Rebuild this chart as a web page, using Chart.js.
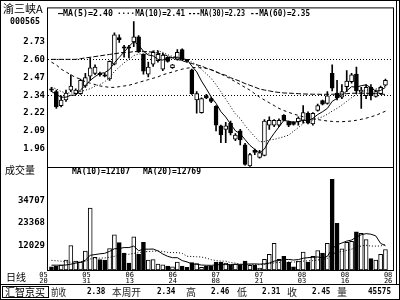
<!DOCTYPE html>
<html>
<head>
<meta charset="utf-8">
<script src="https://cdn.jsdelivr.net/npm/chart.js@4"></script>
<style>html,body{margin:0;background:#fff}canvas{display:block}</style>
</head>
<body>
<canvas id="c" width="400" height="300"></canvas>
<script>
const stockName = '渝三峡A';
const stockCode = '000565';
const dateLabels = ['05/20', '05/31', '06/13', '06/24', '07/08', '07/21', '08/03', '08/16', '08/26'];

const opens = [2.39, 2.37, 2.27, 2.31, 2.38, 2.355, 2.355, 2.41, 2.48, 2.50,
  2.50, 2.49, 2.46, 2.565, 2.755, 2.69, 2.69, 2.725, 2.76, 2.635,
  2.495, 2.565, 2.59, 2.53, 2.615, 2.54, 2.60, 2.67, 2.60, 2.525,
  2.31, 2.22, 2.34, 2.32, 2.265, 2.125, 2.10, 2.145, 2.03, 2.09,
  1.99, 1.84, 1.95, 1.90, 1.915, 2.13, 2.13, 2.13, 2.20, 2.155,
  2.15, 2.155, 2.165, 2.215, 2.14, 2.235, 2.305, 2.285, 2.50, 2.36,
  2.33, 2.405, 2.44, 2.495, 2.365, 2.34, 2.40, 2.335, 2.355, 2.415];
const highs = [2.40, 2.38, 2.34, 2.38, 2.49, 2.39, 2.46, 2.50, 2.61, 2.56,
  2.51, 2.50, 2.59, 2.79, 2.775, 2.70, 2.70, 2.87, 2.77, 2.64,
  2.58, 2.66, 2.66, 2.645, 2.62, 2.565, 2.67, 2.675, 2.60, 2.53,
  2.37, 2.325, 2.35, 2.33, 2.27, 2.13, 2.15, 2.16, 2.07, 2.10,
  2.00, 1.93, 1.96, 1.95, 2.17, 2.19, 2.17, 2.175, 2.205, 2.16,
  2.155, 2.19, 2.27, 2.225, 2.22, 2.28, 2.31, 2.37, 2.56, 2.45,
  2.42, 2.52, 2.50, 2.545, 2.40, 2.42, 2.42, 2.38, 2.41, 2.46];
const lows = [2.37, 2.25, 2.26, 2.30, 2.37, 2.35, 2.35, 2.40, 2.45, 2.49,
  2.48, 2.475, 2.45, 2.56, 2.72, 2.615, 2.61, 2.69, 2.65, 2.495,
  2.475, 2.55, 2.58, 2.52, 2.58, 2.535, 2.595, 2.59, 2.58, 2.35,
  2.215, 2.215, 2.32, 2.29, 2.09, 2.005, 2.005, 2.06, 2.02, 1.99,
  1.845, 1.835, 1.92, 1.895, 1.91, 2.10, 2.12, 2.12, 2.16, 2.12,
  2.13, 2.13, 2.145, 2.14, 2.13, 2.23, 2.275, 2.28, 2.375, 2.31,
  2.32, 2.37, 2.43, 2.355, 2.25, 2.32, 2.31, 2.33, 2.35, 2.41];
const closes = [2.38, 2.26, 2.31, 2.36, 2.41, 2.38, 2.45, 2.47, 2.54, 2.545,
  2.49, 2.48, 2.585, 2.775, 2.74, 2.68, 2.68, 2.76, 2.655, 2.515,
  2.545, 2.65, 2.635, 2.63, 2.585, 2.56, 2.65, 2.60, 2.59, 2.355,
  2.355, 2.32, 2.325, 2.30, 2.13, 2.06, 2.125, 2.075, 2.06, 2.025,
  1.85, 1.92, 1.935, 1.935, 2.16, 2.165, 2.165, 2.165, 2.165, 2.13,
  2.135, 2.18, 2.22, 2.145, 2.215, 2.27, 2.28, 2.34, 2.395, 2.325,
  2.37, 2.445, 2.49, 2.375, 2.38, 2.40, 2.34, 2.37, 2.40, 2.45];
const volumes = [1600, 2000, 2400, 4900, 12200, 4500, 4000, 9400, 30800, 6300,
  5200, 4900, 10700, 17500, 13600, 8400, 3500, 16500, 7800, 13800,
  4900, 5200, 2900, 2600, 2000, 1600, 4000, 2000, 1300, 3700,
  3200, 1300, 2000, 2000, 4000, 4000, 3400, 2300, 2900, 2600,
  4500, 2300, 2300, 1000, 5300, 7800, 13300, 5300, 6800, 4000,
  1600, 4500, 8900, 4000, 6800, 9700, 8400, 13300, 45100, 23200,
  10500, 13800, 14300, 19000, 18200, 15100, 5700, 4900, 7800, 10200];

const ma5 = [2.37, 2.35, 2.33, 2.33, 2.344, 2.344, 2.382, 2.414, 2.45, 2.477,
  2.499, 2.505, 2.528, 2.575, 2.614, 2.652, 2.692, 2.727, 2.703, 2.658,
  2.631, 2.625, 2.60, 2.595, 2.609, 2.612, 2.612, 2.605, 2.598, 2.552,
  2.511, 2.445, 2.39, 2.331, 2.286, 2.227, 2.188, 2.138, 2.09, 2.069,
  2.027, 1.986, 1.958, 1.933, 1.96, 2.023, 2.072, 2.118, 2.164, 2.158,
  2.152, 2.155, 2.166, 2.162, 2.179, 2.206, 2.226, 2.25, 2.30, 2.322,
  2.342, 2.375, 2.405, 2.401, 2.412, 2.418, 2.397, 2.373, 2.378, 2.40];
const ma10 = [2.40, 2.39, 2.37, 2.36, 2.36, 2.36, 2.37, 2.38, 2.39, 2.41,
  2.42, 2.44, 2.471, 2.513, 2.545, 2.575, 2.599, 2.627, 2.639, 2.636,
  2.641, 2.658, 2.663, 2.649, 2.633, 2.621, 2.618, 2.602, 2.596, 2.58,
  2.561, 2.528, 2.497, 2.464, 2.419, 2.369, 2.316, 2.264, 2.21, 2.177,
  2.127, 2.087, 2.048, 2.011, 2.014, 2.025, 2.029, 2.038, 2.048, 2.059,
  2.087, 2.113, 2.142, 2.163, 2.168, 2.179, 2.19, 2.208, 2.231, 2.25,
  2.274, 2.30, 2.327, 2.35, 2.367, 2.38, 2.386, 2.389, 2.39, 2.41];
const ma30 = [2.58, 2.56, 2.53, 2.51, 2.49, 2.47, 2.46, 2.44, 2.43, 2.42,
  2.41, 2.405, 2.40, 2.40, 2.405, 2.41, 2.415, 2.425, 2.435, 2.445,
  2.455, 2.465, 2.475, 2.49, 2.50, 2.51, 2.52, 2.53, 2.537, 2.542,
  2.541, 2.54, 2.535, 2.525, 2.51, 2.495, 2.48, 2.46, 2.44, 2.42,
  2.40, 2.38, 2.355, 2.33, 2.31, 2.29, 2.27, 2.25, 2.235, 2.222,
  2.21, 2.20, 2.19, 2.182, 2.175, 2.17, 2.165, 2.16, 2.157, 2.155,
  2.155, 2.157, 2.16, 2.165, 2.172, 2.18, 2.19, 2.20, 2.215, 2.23];
const ma60 = [2.60, 2.60, 2.60, 2.60, 2.60, 2.60, 2.605, 2.61, 2.615, 2.62,
  2.625, 2.63, 2.635, 2.64, 2.645, 2.65, 2.65, 2.655, 2.655, 2.655,
  2.655, 2.65, 2.645, 2.635, 2.625, 2.61, 2.60, 2.59, 2.58, 2.57,
  2.561, 2.552, 2.537, 2.526, 2.512, 2.496, 2.486, 2.469, 2.456, 2.443,
  2.427, 2.415, 2.402, 2.388, 2.381, 2.375, 2.368, 2.364, 2.36, 2.359,
  2.357, 2.355, 2.353, 2.352, 2.351, 2.351, 2.35, 2.351, 2.351, 2.352,
  2.352, 2.355, 2.358, 2.358, 2.358, 2.358, 2.356, 2.355, 2.352, 2.35];
const volMa10 = [2400, 2400, 2400, 2500, 2900, 3400, 3900, 4900, 7300, 7690,
  8050, 8290, 9270, 10580, 10720, 11160, 11160, 11890, 9590, 10390,
  10360, 10440, 9510, 7970, 6810, 6130, 6130, 4680, 4030, 3020,
  2850, 2460, 2370, 2310, 2510, 2750, 2690, 2720, 2880, 2770,
  2900, 3000, 3030, 2930, 3060, 3440, 4430, 4730, 5120, 5260,
  4970, 5190, 5850, 6150, 6300, 6490, 6000, 6800, 10630, 12550,
  13440, 14370, 14910, 16410, 17550, 18090, 17820, 16980, 13250, 12107];
const volMa20 = [4800, 4600, 4400, 4000, 3900, 3900, 4000, 4300, 5500, 5700,
  5900, 6000, 6300, 6800, 7300, 7700, 7800, 8300, 8600, 9040,
  9205, 9365, 9390, 9275, 8765, 8645, 8645, 8285, 6810, 6705,
  6605, 6450, 5940, 5140, 4660, 4440, 4410, 3700, 3455, 2895,
  2875, 2730, 2700, 2620, 2785, 3095, 3560, 3725, 4000, 4015,
  3935, 4095, 4440, 4540, 4680, 4965, 5215, 5765, 7875, 8905,
  9205, 9780, 10380, 11280, 11925, 12290, 11910, 11890, 11940, 12769];

const priceTicks = [1.96, 2.088, 2.216, 2.344, 2.472, 2.600, 2.728];
const priceTickLabels = ['1.96', '2.09', '2.22', '2.34', '2.47', '2.60', '2.73'];
const volTicks = [12029, 23368, 34707];
const refLevels = [2.60, 2.344];
const weekSummary = [['前收', '2.38'], ['本周开', '2.34'], ['高', '2.46'], ['低', '2.31'], ['收', '2.45'], ['量', '45575']];

const idx = closes.map((c, i) => i);
const fills = closes.map((c, i) => c >= opens[i] ? '#fff' : '#000');
const last = a => a[a.length - 1];
const MONO = '"DejaVu Sans Mono"';
const CJK = '"Noto Sans CJK SC"';

function maLine(arr, axis, dash) {
  return {
    type: 'line', yAxisID: axis, data: idx.map(i => ({x: i, y: arr[i]})),
    borderColor: '#000', borderWidth: 1, borderDash: dash, pointRadius: 0, tension: 0, order: 1
  };
}

const frame = {
  id: 'frame',
  beforeDatasetsDraw(chart) {
    const {ctx, chartArea: a, scales} = chart;
    ctx.save();
    ctx.strokeStyle = '#000';
    ctx.lineWidth = 1;
    ctx.setLineDash([1, 2]);
    refLevels.forEach(v => {
      const y = Math.round(scales.yPrice.getPixelForValue(v)) + 0.5;
      ctx.beginPath(); ctx.moveTo(a.left, y); ctx.lineTo(a.right, y); ctx.stroke();
    });
    ctx.restore();
  },
  afterDraw(chart) {
    const {ctx, chartArea: a, scales} = chart;
    ctx.save();
    ctx.strokeStyle = '#000';
    ctx.lineWidth = 1;
    const line = (x1, y1, x2, y2) => { ctx.beginPath(); ctx.moveTo(x1, y1); ctx.lineTo(x2, y2); ctx.stroke(); };
    ctx.strokeRect(0.5, 0.5, 399, 299);
    line(396.5, 0, 396.5, 284.5);
    ctx.strokeRect(a.left - 0.5, a.top - 0.5, a.right - a.left + 1, a.bottom - a.top + 1);
    const sep = Math.round(scales.yVol.top) + 0.5;
    line(a.left, sep, a.right, sep);
    line(0, 284.5, 400, 284.5);
    ctx.strokeRect(2.5, 286.5, 46, 11);

    ctx.fillStyle = '#000';
    ctx.textBaseline = 'middle';
    ctx.textAlign = 'left';
    ctx.font = '11px ' + CJK;
    ctx.fillText(stockName, 3, 9, 42);
    ctx.font = 'bold 9px ' + MONO;
    ctx.fillText(stockCode, 10, 22, 30);
    ctx.font = '10px ' + CJK;
    ctx.fillText('成交量', 5, 170, 30);
    ctx.fillText('日线', 6, 277, 20);

    ctx.font = 'bold 9px ' + MONO;
    ctx.fillText('—MA(5)=' + last(ma5).toFixed(2), 58, 13.5, 55);
    ctx.fillText('····MA(10)=' + last(ma10).toFixed(2), 117, 13.5, 68);
    ctx.fillText('---MA(30)=' + last(ma30).toFixed(2), 188, 13.5, 57);
    ctx.fillText('--MA(60)=' + last(ma60).toFixed(2), 250, 13.5, 60);
    ctx.fillText('MA(10)=' + last(volMa10), 72, 171.5, 58);
    ctx.fillText('MA(20)=' + last(volMa20), 143, 171.5, 58);

    ctx.font = '10px ' + CJK;
    ctx.fillText('汇智京买', 5, 292, 41);
    const labelX = [51, 112, 186, 237, 287, 337];
    const labelW = [15, 29, 10, 10, 10, 10];
    const valueX = [87, 157, 211, 262, 312, 368];
    weekSummary.forEach(([name, val], k) => {
      ctx.font = '10px ' + CJK;
      ctx.fillStyle = '#222';
      ctx.fillText(name, labelX[k], 292, labelW[k]);
      ctx.font = 'bold 9px ' + MONO;
      ctx.fillStyle = '#000';
      ctx.fillText(val, valueX[k], 292, val.length * 4.6);
    });
    ctx.restore();
  }
};

new Chart(document.getElementById('c'), {
  type: 'line',
  data: {
    datasets: [
      {type: 'bar', yAxisID: 'yPrice', data: idx.map(i => ({x: i, y: [lows[i], highs[i]]})),
        backgroundColor: '#000', barThickness: 1, grouped: false, order: 4},
      {type: 'bar', yAxisID: 'yPrice', data: idx.map(i => ({x: i, y: [opens[i], closes[i]]})),
        backgroundColor: fills, borderColor: '#000', borderWidth: 1, borderSkipped: false,
        barThickness: 4, minBarLength: 1, grouped: false, order: 3},
      {type: 'bar', yAxisID: 'yVol', data: idx.map(i => ({x: i, y: volumes[i]})),
        backgroundColor: fills, borderColor: '#000', borderWidth: 1, borderSkipped: false,
        barThickness: 4, grouped: false, order: 3},
      maLine(ma5, 'yPrice', []),
      maLine(ma10, 'yPrice', [1, 2]),
      maLine(ma30, 'yPrice', [3, 3]),
      maLine(ma60, 'yPrice', [5, 2]),
      maLine(volMa10, 'yVol', []),
      maLine(volMa20, 'yVol', [1, 2])
    ]
  },
  options: {
    responsive: false,
    animation: false,
    devicePixelRatio: 1,
    layout: {padding: {top: 3, right: 7, left: 0, bottom: 0}},
    plugins: {legend: {display: false}, tooltip: {enabled: false}},
    scales: {
      x: {
        type: 'linear', min: -0.72, max: 70.56, offset: false,
        grid: {display: false, drawTicks: false}, border: {display: false},
        afterFit: s => { s.height = 30; },
        afterBuildTicks: s => { s.ticks = dateLabels.map((d, k) => ({value: -1.65 + k * 8.9})); },
        ticks: {
          autoSkip: false, maxRotation: 0, padding: 2, color: '#000',
          font: {family: 'DejaVu Sans Mono', size: 7, lineHeight: 0.85},
          callback: (v, k) => dateLabels[k].split('/')
        }
      },
      yVol: {
        type: 'linear', position: 'left', stack: 'panels', stackWeight: 105, min: 0, max: 51200,
        grid: {display: false, drawTicks: false}, border: {display: false},
        afterFit: s => { s.width = 48; },
        afterBuildTicks: s => { s.ticks = volTicks.map(v => ({value: v})); },
        ticks: {padding: 3, color: '#000', font: {family: 'DejaVu Sans Mono', size: 9, weight: 'bold'},
          callback: v => String(v)}
      },
      yPrice: {
        type: 'linear', position: 'left', stack: 'panels', stackWeight: 162, min: 1.83077, max: 2.96364,
        grid: {display: false, drawTicks: false}, border: {display: false},
        afterFit: s => { s.width = 48; },
        afterBuildTicks: s => { s.ticks = priceTicks.map(v => ({value: v})); },
        ticks: {padding: 3, color: '#000', font: {family: 'DejaVu Sans Mono', size: 9, weight: 'bold'},
          callback: (v, k) => priceTickLabels[k]}
      }
    }
  },
  plugins: [frame]
});
</script>
</body>
</html>
